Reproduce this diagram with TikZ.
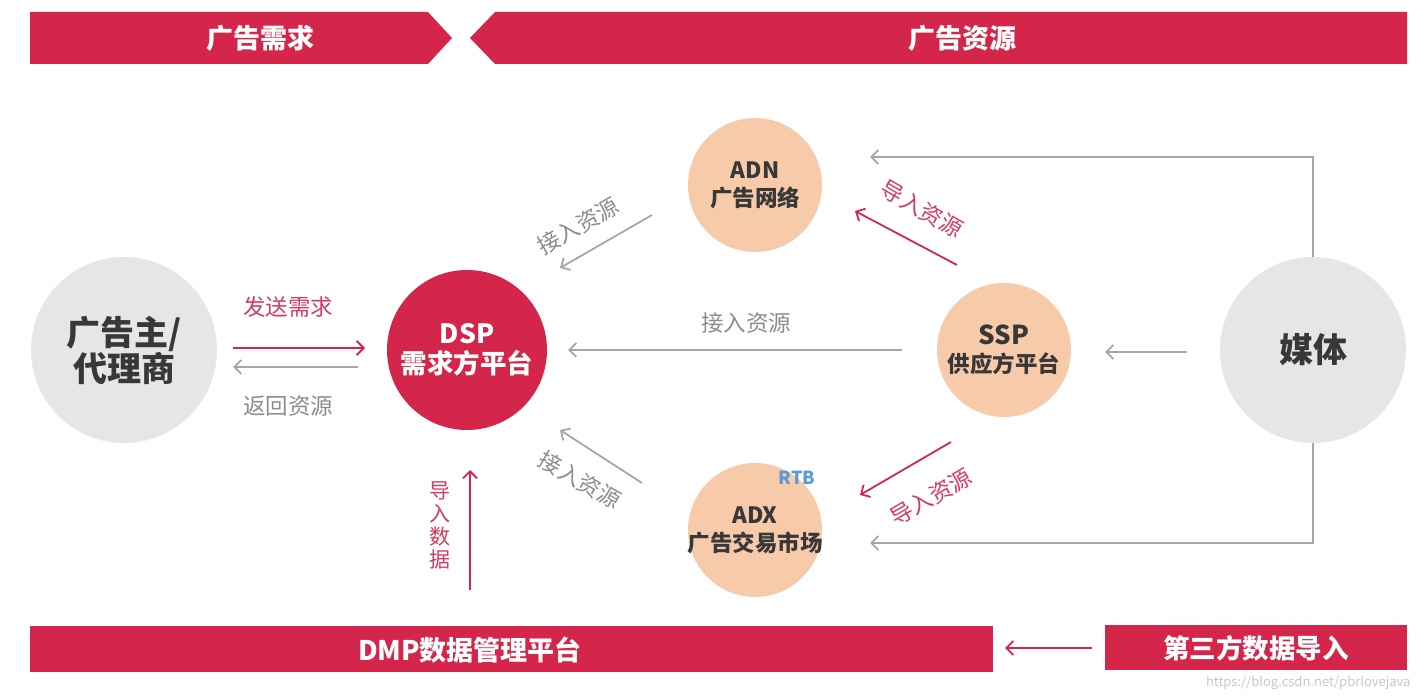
\documentclass[tikz,border=0pt]{standalone}
\usepackage{fontspec}
\setmainfont{Noto Sans CJK SC}
\usetikzlibrary{arrows.meta}
\definecolor{brand}{HTML}{D4264A}
\definecolor{peach}{HTML}{F7CBAA}
\definecolor{lightgrey}{HTML}{E6E6E6}
\definecolor{arrowgrey}{HTML}{A6A6A6}
\definecolor{labelgrey}{HTML}{8C8C8C}
\definecolor{labelred}{HTML}{D63A5E}
\definecolor{darktext}{HTML}{383838}
\definecolor{rtbblue}{HTML}{5B9BD5}
\tikzset{
  bigcircle/.style={circle,fill=lightgrey,minimum size=186pt,inner sep=0pt,text=darktext,font=\fontsize{34}{36}\selectfont\bfseries,align=center},
  dspcircle/.style={circle,fill=brand,minimum size=160pt,inner sep=0pt,text=white,font=\fontsize{26.5}{30}\selectfont\bfseries,align=center},
  peachcircle/.style={circle,fill=peach,minimum size=134pt,inner sep=-12pt,text=darktext,font=\fontsize{22.5}{28}\selectfont\bfseries,align=center},
  bartext/.style={text=white,font=\fontsize{27}{30}\selectfont\bfseries},
  greyarrow/.style={draw=arrowgrey,line width=1.8pt,-{Straight Barb[length=7pt,width=14pt,line width=1.8pt]}},
  redarrow/.style={draw=brand,line width=1.8pt,-{Straight Barb[length=7pt,width=14pt,line width=1.8pt]}},
  greylabel/.style={text=labelgrey,font=\fontsize{22.5}{26}\selectfont},
  redlabel/.style={text=labelred,font=\fontsize{22.5}{26}\selectfont},
}
\begin{document}
\begin{tikzpicture}[x=1pt,y=-1pt]
\useasboundingbox (0,0) rectangle (1422,700);
% header bars
\fill[brand] (30,12) -- (428,12) -- (452,38) -- (428,64) -- (30,64) -- cycle;
\fill[brand] (470,38) -- (495,12) -- (1407,12) -- (1407,64) -- (495,64) -- cycle;
\node[bartext] (hdemand) at (260,38) {广告需求};
\node[bartext] (hsupply) at (962,38) {广告资源};
% bottom bars
\fill[brand] (30,626) rectangle (993,672);
\fill[brand] (1105,625) rectangle (1407,670);
\node[bartext] (dmp) at (470,650) {DMP数据管理平台};
\node[bartext,font=\fontsize{26.5}{30}\selectfont\bfseries] (third) at (1256,648) {第三方数据导入};
% circles
\node[bigcircle] (adv) at (124,350) {广告主/\\代理商};
\node[bigcircle] (media) at (1313,350) {媒体};
\node[dspcircle] (dsp) at (467,350) {DSP\\需求方平台};
\node[peachcircle] (adn) at (755,185) {ADN\\广告网络};
\node[peachcircle] (ssp) at (1004,350) {\fontsize{26}{31}\selectfont SSP\\供应方平台};
\node[peachcircle] (adx) at (755,530) {ADX\\广告交易市场};
\node[text=rtbblue,font=\fontsize{18}{20}\selectfont\bfseries] (rtb) at (797,478) {RTB};
% coordinates
\coordinate (a1s) at (233,348); \coordinate (a1e) at (365,348);
\coordinate (a2s) at (358,367); \coordinate (a2e) at (233,367);
\coordinate (a3s) at (902,350); \coordinate (a3e) at (568,350);
\coordinate (a4s) at (1187,352); \coordinate (a4e) at (1105,352);
\coordinate (a5s) at (652,215); \coordinate (a5e) at (560,268);
\coordinate (a6s) at (642,483); \coordinate (a6e) at (560,430);
\coordinate (a7s) at (957,265); \coordinate (a7e) at (855,211);
\coordinate (a8s) at (951,442); \coordinate (a8e) at (860,495);
\coordinate (a9e) at (870,157);
\coordinate (a10e) at (870,543);
\coordinate (a11s) at (1092,648); \coordinate (a11e) at (1005,648);
\coordinate (a12s) at (470,590); \coordinate (a12e) at (470,470);
% connectors
\draw[redarrow] (a1s) -- (a1e);
\draw[greyarrow] (a2s) -- (a2e);
\draw[greyarrow] (a3s) -- (a3e);
\draw[greyarrow] (a4s) -- (a4e);
\draw[greyarrow] (a5s) -- (a5e);
\draw[greyarrow] (a6s) -- (a6e);
\draw[redarrow] (a7s) -- (a7e);
\draw[redarrow] (a8s) -- (a8e);
\draw[greyarrow] (media.north) -- (1313,157) -- (a9e);
\draw[greyarrow] (media.south) -- (1313,543) -- (a10e);
\draw[redarrow] (a11s) -- (a11e);
\draw[redarrow] (a12s) -- (a12e);
% labels
\node[redlabel] (l1) at (288,307) {发送需求};
\node[greylabel] (l2) at (288,406) {返回资源};
\node[greylabel] (l3) at (746,323) {接入资源};
\node[greylabel,rotate=30] (l4) at (578,226) {接入资源};
\node[greylabel,rotate=-30] (l5) at (580,480) {接入资源};
\node[redlabel,rotate=-30] (l6) at (922,209) {导入资源};
\node[redlabel,rotate=30] (l7) at (931,497) {导入资源};
\node[redlabel,align=center,font=\fontsize{21}{23}\selectfont] (l8) at (440,525) {导\\入\\数\\据};
% watermark
\node[text=black!22,font=\fontsize{13}{15}\selectfont,anchor=east] (wm) at (1414,683) {https://blog.csdn.net/pbrlovejava};
\end{tikzpicture}
\end{document}
